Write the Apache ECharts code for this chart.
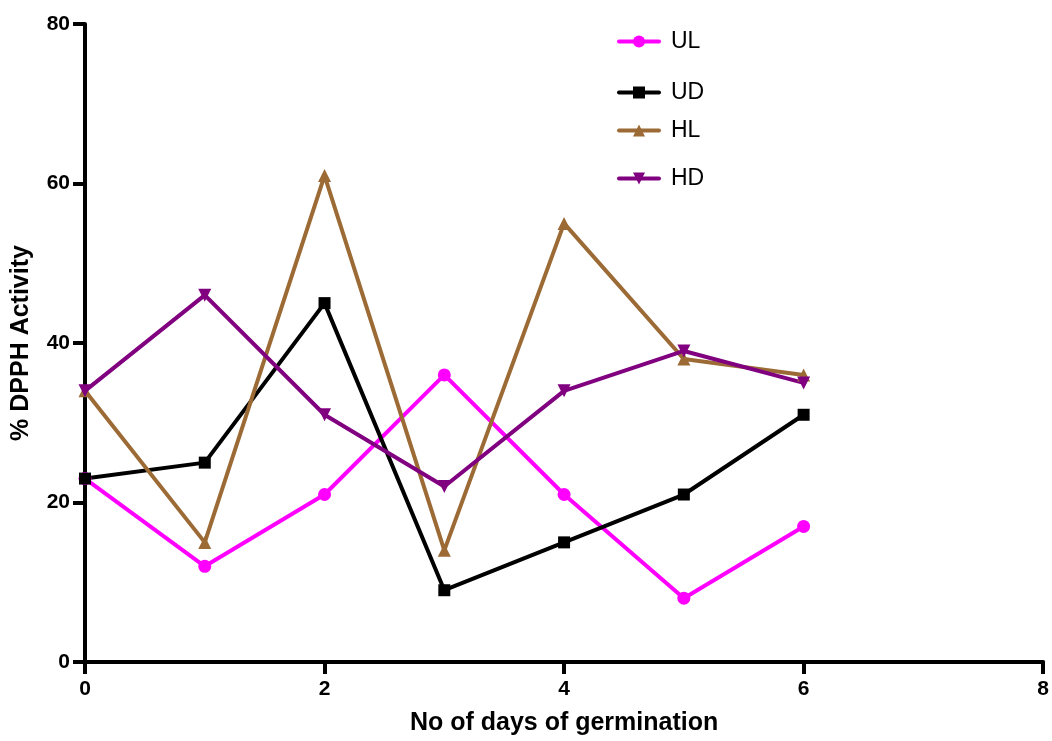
<!DOCTYPE html>
<html>
<head>
<meta charset="utf-8">
<script src="https://cdn.jsdelivr.net/npm/echarts@6/dist/echarts.min.js"></script>
<style>html,body{margin:0;padding:0;background:#fff;}#c{width:1052px;height:741px;}</style>
</head>
<body>
<div id="c"></div>
<script>
const days = [0, 1, 2, 3, 4, 5, 6];
const UL = [23, 12, 21, 36, 21, 8, 17];
const UD = [23, 25, 45, 9, 15, 21, 31];
const HL = [34, 15, 61, 14, 55, 38, 36];
const HD = [34, 46, 31, 22, 34, 39, 35];
const seriesNames = ['UL', 'UD', 'HL', 'HD'];
const seriesData = [UL, UD, HL, HD];
const colors = ['#FF00FF', '#000000', '#9C6A35', '#800080'];
const symbols = ['circle', 'rect', 'triangle', 'path://M0,0 L10,0 L5,9 Z'];
const symbolSizes = [13, 12, 13, 13];
const legendTops = [38, 89, 127, 175];

const chart = echarts.init(document.getElementById('c'), null, {renderer: 'canvas'});
const font = 'Liberation Sans, Arial, sans-serif';
const option = {
  backgroundColor: '#fff',
  animation: false,
  grid: {left: 85, right: 6, top: 24, bottom: 77, containLabel: false},
  legend: seriesNames.map((n, i) => ({
    data: [n], left: 612, top: legendTops[i] - 13, itemWidth: 40, itemHeight: 15, itemGap: 0,
    lineStyle: {width: 4, cap: 'round'},
    textStyle: {fontFamily: font, fontSize: 23, color: '#000', padding: [0, 0, 0, 7]}
  })),
  xAxis: {
    type: 'value', min: 0, max: 8, interval: 2,
    name: 'No of days of germination', nameLocation: 'middle', nameGap: 49,
    nameTextStyle: {fontFamily: font, fontSize: 25, fontWeight: 'bold', color: '#000'},
    axisLine: {show: true, lineStyle: {color: '#000', width: 4}},
    axisTick: {show: true, length: 12, lineStyle: {color: '#000', width: 4}},
    axisLabel: {fontFamily: font, fontSize: 21, fontWeight: 'bold', color: '#000', margin: 17},
    splitLine: {show: false}
  },
  yAxis: {
    type: 'value', min: 0, max: 80, interval: 20,
    name: '% DPPH Activity', nameLocation: 'middle', nameGap: 51, nameRotate: 90,
    nameTextStyle: {fontFamily: font, fontSize: 25, fontWeight: 'bold', color: '#000'},
    axisLine: {show: true, lineStyle: {color: '#000', width: 4}},
    axisTick: {show: true, length: 12, lineStyle: {color: '#000', width: 4}},
    axisLabel: {fontFamily: font, fontSize: 21, fontWeight: 'bold', color: '#000', margin: 15},
    splitLine: {show: false}
  },
  series: seriesNames.map((n, i) => ({
    name: n, type: 'line',
    data: days.map((d, j) => [d, seriesData[i][j]]),
    symbol: symbols[i], symbolSize: symbolSizes[i], showAllSymbol: true,
    lineStyle: {color: colors[i], width: 4},
    itemStyle: {color: colors[i], borderWidth: 0},
    emphasis: {disabled: true}
  }))
};
chart.setOption(option);
</script>
</body>
</html>
